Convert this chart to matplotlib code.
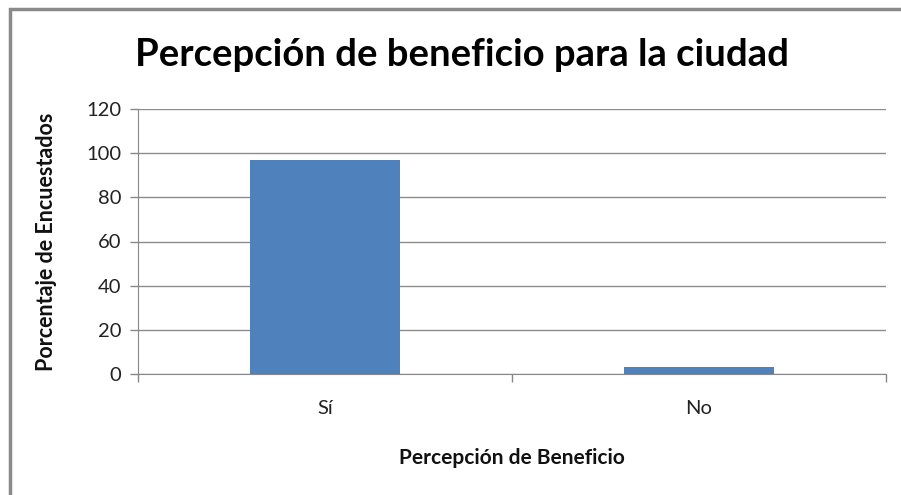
import matplotlib
matplotlib.use("Agg")
import matplotlib.pyplot as plt
from matplotlib.patches import Rectangle

categories = ["Sí", "No"]
values = [97, 3]
yticks = [0, 20, 40, 60, 80, 100, 120]

plt.rcParams['font.family'] = ['Lato', 'DejaVu Sans']

fig = plt.figure(figsize=(9.01, 4.95), dpi=100)
W, H = 901, 495
ax = fig.add_axes([138 / W, (H - 374) / H, (886 - 138) / W, (374 - 109) / H])

x = list(range(len(categories)))
ax.bar(x, values, width=0.4, color="#4F81BD", zorder=3)
ax.set_xlim(-0.5, len(categories) - 0.5)
ax.set_ylim(0, 120)
ax.set_yticks(yticks)
ax.set_yticklabels([str(v) for v in yticks], fontsize=14.5, color="#222222")
ax.set_xticks(x)
ax.set_xticklabels(categories, fontsize=14.5, color="#222222")
ax.tick_params(axis='x', length=0, pad=19)
ax.tick_params(axis='y', length=6, color="#888888", width=1, pad=6)

# category boundary ticks on the x axis
ax.set_xticks([-0.5, 0.5, 1.5], minor=True)
ax.tick_params(axis='x', which='minor', length=6, color="#888888", width=1)

ax.grid(axis='y', color="#8c8c8c", linewidth=1, zorder=0)
for s in ['top', 'right']:
    ax.spines[s].set_visible(False)
ax.spines['left'].set_color("#888888")
ax.spines['bottom'].set_color("#888888")

ax.set_ylabel("Porcentaje de Encuestados", fontsize=15.5, fontweight='bold',
              color="#111111", labelpad=21)
ax.set_xlabel("Percepción de Beneficio", fontsize=15, fontweight='bold',
              color="#111111", labelpad=22)

fig.text(462 / W, 1 - 55 / H, "Percepción de beneficio para la ciudad",
         ha='center', va='center', fontsize=27.5, fontweight='bold', color="#000000")

# outer chart frame (cut off at right and bottom)
fig.patches.append(Rectangle((10 / W, -0.05), 1.1, 1 - 9 / H + 0.05,
                             transform=fig.transFigure, fill=False,
                             edgecolor="#8a8a8a", linewidth=2.5))

fig.savefig("out.png", dpi=100)
